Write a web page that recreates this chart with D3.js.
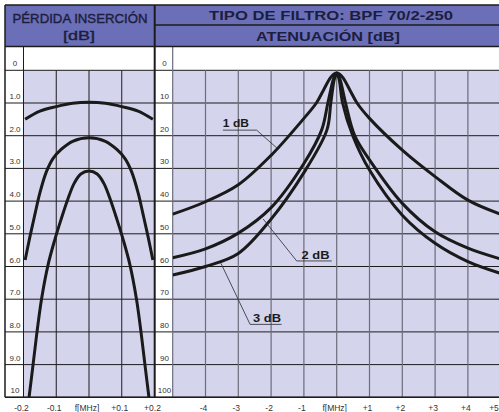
<!DOCTYPE html>
<html lang="es">
<head>
  <meta charset="UTF-8" />
  <title>Tipo de filtro: BPF 70/2-250</title>
  <script src="https://cdnjs.cloudflare.com/ajax/libs/d3/7.8.2/d3.min.js"></script>
  <style>
    body {
      margin: 0;
      padding: 0;
      background: #fff;
      font-family: "Liberation Sans", Arial, sans-serif;
    }
    svg { display: block; }
    .hline { stroke: #1c1c1c; stroke-width: 1px; }
    .vline-l { stroke: #1c1c1c; stroke-width: 1px; }
    .vline-r { stroke: #6c6c7c; stroke-width: 1.2px; }
    .curve {
      fill: none;
      stroke: #1a1a1a;
      stroke-width: 3px;
    }
    .leader { stroke: #2a2a2a; stroke-width: 0.8px; fill: none; }
    .ylab, .xlab { font-size: 8.5px; fill: #333; }
    .ylab { font-size: 8px; }
    .head { fill: #1d1d3d; font-weight: bold; }
    /* medium weight: regular face with a hairline stroke */
    .head.light { font-weight: normal; stroke: #1d1d3d; stroke-width: 0.4px; }
    .clabel { font-size: 10px; font-weight: bold; fill: #1a1a1a; }
  </style>
</head>
<body>

<svg id="chart" width="499" height="412"></svg>

<script>
/* -------------------------------------------------------
   DATA
------------------------------------------------------- */
// left panel: insertion loss [dB] vs f [MHz]
const lossTicks = [0, 1, 2, 3, 4, 5, 6, 7, 8, 9, 10];
const lossTickLabels = ["0", "1.0", "2.0", "3.0", "4.0", "5.0", "6.0", "7.0", "8.0", "9.0", "10"];
const lossFreqTicks = [-0.2, -0.1, 0, 0.1, 0.2];
const lossFreqLabels = ["-0.2", "-0.1", "f[MHz]", "+0.1", "+0.2"];

const ilFreq1 = [-0.195, -0.15, -0.1, -0.05, 0, 0.05, 0.1, 0.15, 0.195];
const ilLoss1 = [1.50, 1.25, 1.11, 1.01, 0.98, 1.01, 1.11, 1.25, 1.50];

const ilFreq2 = [-0.195, -0.18, -0.165, -0.15, -0.13, -0.11, -0.085, -0.05, 0, 0.05, 0.085, 0.11, 0.13, 0.15, 0.165, 0.18, 0.195];
const ilLoss2 = [5.8, 5.07, 4.4, 3.75, 3.1, 2.7, 2.42, 2.17, 2.06, 2.17, 2.42, 2.7, 3.1, 3.75, 4.4, 5.07, 5.8];

const ilFreq3 = [-0.183, -0.172, -0.16, -0.145, -0.125, -0.105, -0.085, -0.065, -0.045, -0.025, 0, 0.025, 0.045, 0.065, 0.085, 0.105, 0.125, 0.145, 0.16, 0.172, 0.183];
const ilLoss3 = [10, 9.1, 8.1, 7.0, 5.95, 5.2, 4.55, 3.95, 3.45, 3.17, 3.08, 3.17, 3.45, 3.95, 4.55, 5.2, 5.95, 7.0, 8.1, 9.1, 10];

// right panel: attenuation [dB] vs f [MHz]
const attTicks = [0, 10, 20, 30, 40, 50, 60, 70, 80, 90, 100];
const attFreqTicks = [-4, -3, -2, -1, 0, 1, 2, 3, 4, 5];
const attFreqLabels = ["-4", "-3", "-2", "-1", "f[MHz]", "+1", "+2", "+3", "+4", "+5"];

const attFreq1 = [-5, -4, -3, -2, -1, -0.62, -0.4, -0.2, -0.08, 0, 0.08, 0.2, 0.4, 0.62, 1, 2, 3, 4, 5];
const att1 = [44, 40.2, 35, 26, 14.7, 10, 6, 2.4, 1.1, 0.8, 1.1, 2.4, 6, 10, 14.7, 24.4, 32.5, 39.7, 44];

const attFreq2 = [-5, -4, -3, -2, -1, -0.46, -0.27, -0.11, -0.04, 0, 0.04, 0.11, 0.27, 0.55, 1, 2, 3, 4, 5];
const att2 = [57.3, 54.6, 49.8, 42, 28.5, 18.3, 10, 3, 1.4, 1.0, 1.4, 3, 10, 20, 27.4, 40.7, 49.4, 54.4, 57.7];

const attFreq3 = [-5, -4, -3, -2, -1, -0.3, -0.18, -0.08, -0.03, 0, 0.03, 0.08, 0.18, 0.49, 1, 2, 3, 4, 5];
const att3 = [62.6, 60, 56, 45.5, 31.3, 18.3, 10, 3, 1.4, 1.1, 1.4, 3, 10, 20, 30.5, 44.3, 52.9, 58.5, 62.1];

// curve callouts: text position, underline, point on the curve (f, dB)
const callouts = [
  { text: "1 dB", f: -3.47, db: 17.3, lineFrom: -3.47, lineTo: -2.44, lineDb: 18.3, tipF: -1.81, tipDb: 23.9, len: 26 },
  { text: "2 dB", f: -1.07, db: 57.6, lineFrom: -1.22, lineTo: -0.15, lineDb: 58.3, tipF: -2.24, tipDb: 45.5, len: 28 },
  { text: "3 dB", f: -2.55, db: 77.0, lineFrom: -2.64, lineTo: -1.68, lineDb: 77.7, tipF: -3.53, tipDb: 59.0, len: 28 }
];

/* -------------------------------------------------------
   SETUP
------------------------------------------------------- */
const W = 499, H = 412;
const frameX = 5, frameY = 5;
const headMid = 25, headBottom = 46.5;
const divX = 154.7;

const svg = d3.select("#chart");

const xL = d3.scaleLinear().domain([-0.2, 0.2]).range([23.5, 154.5]);
const yL = d3.scaleLinear().domain([0, 10]).range([70.3, 397.3]);
const xR = d3.scaleLinear().domain([-5, 5]).range([172.7, 500.7]);
const yR = d3.scaleLinear().domain([0, 100]).range([70.3, 397.3]);

const blue = "#6a6fb8";
const lavender = "#d4d4ed";

const defs = svg.append("defs");
defs.append("clipPath").attr("id", "clipL").append("rect")
  .attr("x", xL(-0.2)).attr("y", yL(0))
  .attr("width", xL(0.2) - xL(-0.2)).attr("height", yL(10) - yL(0));
defs.append("clipPath").attr("id", "clipR").append("rect")
  .attr("x", xR(-5)).attr("y", yR(0))
  .attr("width", W - xR(-5)).attr("height", yR(100) - yR(0));

/* -------------------------------------------------------
   HEADER
------------------------------------------------------- */
svg.append("rect").attr("x", frameX).attr("y", frameY)
  .attr("width", W - frameX).attr("height", headBottom - frameY)
  .attr("fill", blue);

svg.append("line").attr("class", "hline")
  .attr("x1", divX).attr("x2", W).attr("y1", headMid).attr("y2", headMid)
  .style("stroke-width", "1.3px");

function headText(txt, cx, base, size, len, cls) {
  svg.append("text").attr("class", "head " + (cls || ""))
    .attr("x", cx).attr("y", base)
    .attr("text-anchor", "middle")
    .style("font-size", size + "px")
    .attr("textLength", len)
    .attr("lengthAdjust", "spacingAndGlyphs")
    .text(txt);
}
headText("PÉRDIDA INSERCIÓN", 80, 22.5, 13.5, 135, "light");
headText("[dB]", 79, 40, 13.5, 32, "light");
headText("TIPO DE FILTRO: BPF 70/2-250", 331, 20, 12.5, 244);
headText("ATENUACIÓN [dB]", 328, 40.5, 12.5, 144);

/* -------------------------------------------------------
   PLOT BACKGROUNDS
------------------------------------------------------- */
svg.append("rect")
  .attr("x", xL(-0.2)).attr("y", yL(0))
  .attr("width", xL(0.2) - xL(-0.2)).attr("height", yL(10) - yL(0))
  .attr("fill", lavender);
svg.append("rect")
  .attr("x", xR(-5)).attr("y", yR(0))
  .attr("width", W - xR(-5)).attr("height", yR(100) - yR(0))
  .attr("fill", lavender);

/* -------------------------------------------------------
   GRID
------------------------------------------------------- */
svg.append("g").selectAll("line").data(lossTicks).join("line")
  .attr("class", "hline")
  .attr("x1", frameX).attr("x2", W)
  .attr("y1", d => yL(d)).attr("y2", d => yL(d));

svg.append("g").selectAll("line").data(lossFreqTicks.slice(1, -1)).join("line")
  .attr("class", "vline-l")
  .attr("x1", d => xL(d)).attr("x2", d => xL(d))
  .attr("y1", yL(0)).attr("y2", yL(10));

svg.append("g").selectAll("line").data(attFreqTicks).join("line")
  .attr("class", "vline-r")
  .attr("x1", d => xR(d)).attr("x2", d => xR(d))
  .attr("y1", yR(0)).attr("y2", yR(100));

// column dividers and frame
svg.append("line").attr("class", "hline")
  .attr("x1", xL(-0.2)).attr("x2", xL(-0.2)).attr("y1", headBottom).attr("y2", yL(10));
svg.append("line").attr("class", "vline-r")
  .attr("x1", xR(-5)).attr("x2", xR(-5)).attr("y1", headBottom).attr("y2", yR(100));
svg.append("line").attr("class", "hline")
  .attr("x1", divX).attr("x2", divX).attr("y1", frameY).attr("y2", yL(10))
  .style("stroke-width", "2px");
svg.append("line").attr("class", "hline")
  .attr("x1", frameX).attr("x2", frameX).attr("y1", frameY).attr("y2", yL(10))
  .style("stroke-width", "1.5px");
svg.append("line").attr("class", "hline")
  .attr("x1", frameX).attr("x2", W).attr("y1", frameY).attr("y2", frameY)
  .style("stroke-width", "1.5px");
svg.append("line").attr("class", "hline")
  .attr("x1", frameX).attr("x2", W).attr("y1", headBottom).attr("y2", headBottom)
  .style("stroke-width", "1.3px");
svg.append("line").attr("class", "hline")
  .attr("x1", frameX).attr("x2", W).attr("y1", yL(10)).attr("y2", yL(10))
  .style("stroke-width", "1.5px");

/* -------------------------------------------------------
   AXIS LABELS
------------------------------------------------------- */
svg.append("g").selectAll("text").data(lossTicks).join("text")
  .attr("class", "ylab")
  .attr("x", 15).attr("y", d => yL(d) - 4)
  .attr("text-anchor", "middle")
  .text((d, i) => lossTickLabels[i]);

svg.append("g").selectAll("text").data(attTicks).join("text")
  .attr("class", "ylab")
  .attr("x", 164.5).attr("y", d => yR(d) - 4)
  .attr("text-anchor", "middle")
  .text(d => d);

svg.append("g").selectAll("text").data(lossFreqTicks).join("text")
  .attr("class", "xlab")
  .attr("x", d => xL(d) - 2).attr("y", 411)
  .attr("text-anchor", "middle")
  .text((d, i) => lossFreqLabels[i]);

// the last one sits on the page edge, as on the sheet
svg.append("g").selectAll("text").data(attFreqTicks).join("text")
  .attr("class", "xlab")
  .attr("x", d => Math.min(xR(d) - 2, W - 5))
  .attr("y", 411)
  .attr("text-anchor", "middle")
  .text((d, i) => attFreqLabels[i]);

/* -------------------------------------------------------
   CURVES
------------------------------------------------------- */
const lineL = d3.line().x(d => xL(d[0])).y(d => yL(d[1])).curve(d3.curveCatmullRom.alpha(0.5));
const lineR = d3.line().x(d => xR(d[0])).y(d => yR(d[1])).curve(d3.curveCatmullRom.alpha(0.5));

const leftCurves = [d3.zip(ilFreq1, ilLoss1), d3.zip(ilFreq2, ilLoss2), d3.zip(ilFreq3, ilLoss3)];
const rightCurves = [d3.zip(attFreq1, att1), d3.zip(attFreq2, att2), d3.zip(attFreq3, att3)];

svg.append("g").attr("clip-path", "url(#clipL)")
  .selectAll("path").data(leftCurves).join("path")
  .attr("class", "curve")
  .attr("d", lineL);

svg.append("g").attr("clip-path", "url(#clipR)")
  .selectAll("path").data(rightCurves).join("path")
  .attr("class", "curve")
  .attr("d", lineR);

/* -------------------------------------------------------
   CALLOUTS
------------------------------------------------------- */
const co = svg.append("g").selectAll("g").data(callouts).join("g");
co.append("text").attr("class", "clabel")
  .attr("x", d => xR(d.f)).attr("y", d => yR(d.db))
  .attr("textLength", d => d.len)
  .attr("lengthAdjust", "spacingAndGlyphs")
  .text(d => d.text);
co.append("polyline").attr("class", "leader")
  .attr("points", d => {
    // underline runs to the corner nearest the tip
    const corner = d.tipF < d.lineFrom ? d.lineFrom : d.lineTo;
    const far = corner === d.lineFrom ? d.lineTo : d.lineFrom;
    return [[xR(far), yR(d.lineDb)], [xR(corner), yR(d.lineDb)], [xR(d.tipF), yR(d.tipDb)]].join(" ");
  });
</script>

</body>
</html>
